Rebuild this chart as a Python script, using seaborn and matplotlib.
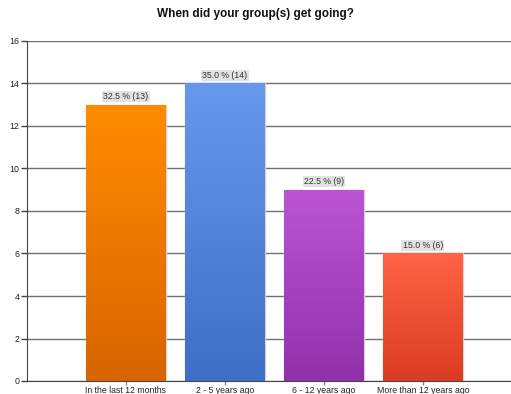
import numpy as np
import pandas as pd
import matplotlib
matplotlib.use("Agg")
import matplotlib.pyplot as plt
import matplotlib.colors as mcolors
import seaborn as sns

# === DATA ===
categories = ["In the last 12 months", "2 - 5 years ago", "6 - 12 years ago", "More than 12 years ago"]
counts = [13, 14, 9, 6]
percents = [32.5, 35.0, 22.5, 15.0]
top_colors = ["#ff8c00", "#6698ee", "#bb55d4", "#ff6446"]
bottom_colors = ["#d86400", "#3e6fc8", "#9230aa", "#d93c22"]

df = pd.DataFrame({"category": categories, "count": counts})

sns.set_style("white")
plt.rcParams["font.family"] = ["Liberation Sans", "DejaVu Sans"]

fig = plt.figure(figsize=(5.11, 3.94), dpi=100)
ax = fig.add_axes([27 / 511, 13 / 394, 1 - 27 / 511, 340 / 394])

sns.barplot(data=df, x="category", y="count", ax=ax, width=0.8,
            color="white", edgecolor="#d4d4d4", linewidth=1.0, zorder=3)

# gradient fill inside each bar
for patch, c1, c2 in zip(ax.patches, top_colors, bottom_colors):
    x0, y0 = patch.get_x(), patch.get_y()
    w, h = patch.get_width(), patch.get_height()
    cmap = mcolors.LinearSegmentedColormap.from_list("g", [c2, c1])
    grad = np.linspace(0, 1, 256).reshape(-1, 1)
    im = ax.imshow(grad, cmap=cmap, origin="lower", aspect="auto",
                   extent=[x0, x0 + w, y0, y0 + h], zorder=3.5)
    im.set_clip_path(patch)

# value labels
for i, (n, p) in enumerate(zip(counts, percents)):
    ax.text(i, n + 0.17, f"{p:.1f} % ({n})", ha="center", va="bottom",
            fontsize=6.3, color="#333333", zorder=5,
            bbox=dict(boxstyle="square,pad=0.15", fc="#e2e2e2", ec="none"))

ax.set_xlim(-1, 3.89)
ax.set_ylim(0, 16)
ax.set_yticks(range(0, 17, 2))
ax.yaxis.grid(True, color="#707070", linewidth=1.0, zorder=0)
ax.set_axisbelow(True)

ax.set_xlabel("")
ax.set_ylabel("")
ax.tick_params(axis="both", labelsize=6.3, labelcolor="#222222", length=4, width=1,
               direction="out", left=True, bottom=True)
ax.tick_params(axis="y", color="#444444", pad=1.5)
ax.tick_params(axis="x", color="#888888", length=3, pad=0.5)

for s in ["top", "right"]:
    ax.spines[s].set_visible(False)
ax.spines["left"].set_color("#444444")
ax.spines["bottom"].set_color("#444444")

fig.text(0.5, 1 - 14 / 394, "When did your group(s) get going?", ha="center", va="center",
         fontsize=8.5, fontweight="bold", color="#111111")

fig.savefig("out.png", dpi=100)
